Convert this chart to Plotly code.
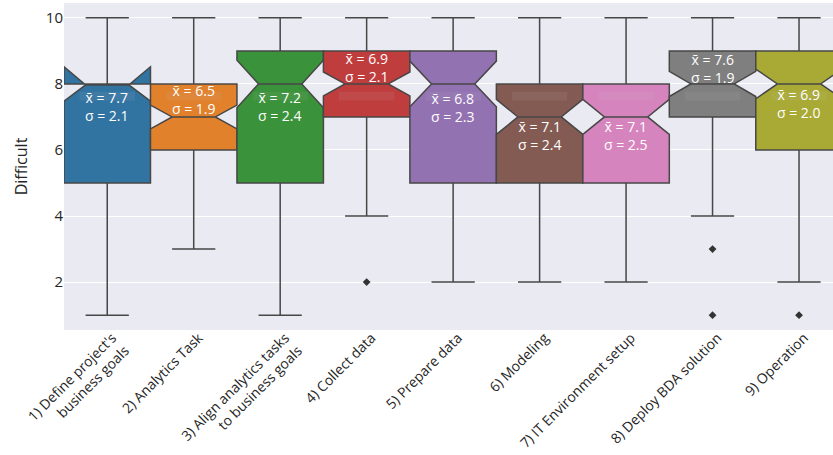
import plotly.graph_objects as go

categories = [
    "1) Define project's<br>business goals",
    "2) Analytics Task",
    "3) Align analytics tasks<br>to business goals",
    "4) Collect data",
    "5) Prepare data",
    "6) Modeling",
    "7) IT Environment setup",
    "8) Deploy BDA solution",
    "9) Operation",
]
q1 = [5, 6, 5, 7, 5, 5, 5, 7, 6]
median = [8, 7, 8, 8, 8, 7, 7, 8, 8]
q3 = [8, 8, 9, 9, 9, 8, 8, 9, 9]
lower_whisker = [1, 3, 1, 4, 2, 2, 2, 4, 2]
upper_whisker = [10, 10, 10, 10, 10, 10, 10, 10, 10]
notch_span = [0.52, 0.36, 0.72, 0.36, 0.69, 0.53, 0.53, 0.38, 0.45]
means = [7.7, 6.5, 7.2, 6.9, 6.8, 7.1, 7.1, 7.6, 6.9]
stds = [2.1, 1.9, 2.4, 2.1, 2.3, 2.4, 2.5, 1.9, 2.0]
outlier_box = [3, 7, 7, 8]
outlier_val = [2, 3, 1, 1]

# label placement (layout only): vertical centre of the two-line stats label
label_y = [7.32, 7.54, 7.33, 8.50, 7.30, 6.43, 6.43, 8.47, 7.42]

colors = ["#3274a1", "#e1812c", "#3a923a", "#c03d3e", "#9372b2",
          "#845b53", "#d684bd", "#7f7f7f", "#a9aa35"]
edge = "#474747"
font_family = "Open Sans, DejaVu Sans, sans-serif"

fig = go.Figure()
for i in range(len(categories)):
    fig.add_trace(go.Box(
        x=[i], q1=[q1[i]], median=[median[i]], q3=[q3[i]],
        lowerfence=[lower_whisker[i]], upperfence=[upper_whisker[i]],
        notchspan=[notch_span[i]], notched=True, notchwidth=0.25,
        whiskerwidth=0.5, width=1.0, boxpoints=False,
        fillcolor=colors[i], line=dict(color=edge, width=1.5),
        showlegend=False, hoverinfo="skip",
    ))

fig.add_trace(go.Scatter(
    x=outlier_box, y=outlier_val, mode="markers",
    marker=dict(symbol="diamond", size=6, color="#333333"),
    showlegend=False, hoverinfo="skip",
))

for i in range(len(categories)):
    fig.add_shape(type="rect", x0=i - 0.32, x1=i + 0.32, y0=7.5, y1=7.76,
                  line=dict(width=0), fillcolor="rgba(200,200,200,0.09)", layer="above")
    fig.add_annotation(x=i, y=label_y[i],
                       text="x\u0304 = %.1f<br>\u03c3 = %.1f" % (means[i], stds[i]),
                       showarrow=False, font=dict(color="white", size=14, family=font_family),
                       xanchor="center", yanchor="middle", align="center")

fig.update_layout(
    width=833, height=455,
    margin=dict(l=64, r=0, t=3, b=125),
    plot_bgcolor="#eaeaf2", paper_bgcolor="white",
    boxmode="overlay",
    font=dict(family=font_family, size=14, color="#262626"),
    xaxis=dict(
        range=[-0.5, 8.393], tickmode="array",
        tickvals=list(range(len(categories))), ticktext=categories,
        tickangle=-45, showgrid=False, zeroline=False, showline=False,
        ticks="", tickfont=dict(size=14, color="#262626"), automargin=False,
        ticklabelshift=5, ticklabelstandoff=-4,
    ),
    yaxis=dict(
        range=[0.55, 10.45], tickvals=[2, 4, 6, 8, 10],
        showgrid=True, gridcolor="white", gridwidth=1, zeroline=False,
        showline=False, ticks="", tickfont=dict(size=15, color="#262626"),
        title=dict(text="Difficult", font=dict(size=16, color="#262626"), standoff=14),
        automargin=False,
    ),
)

fig.write_html("out.html")
